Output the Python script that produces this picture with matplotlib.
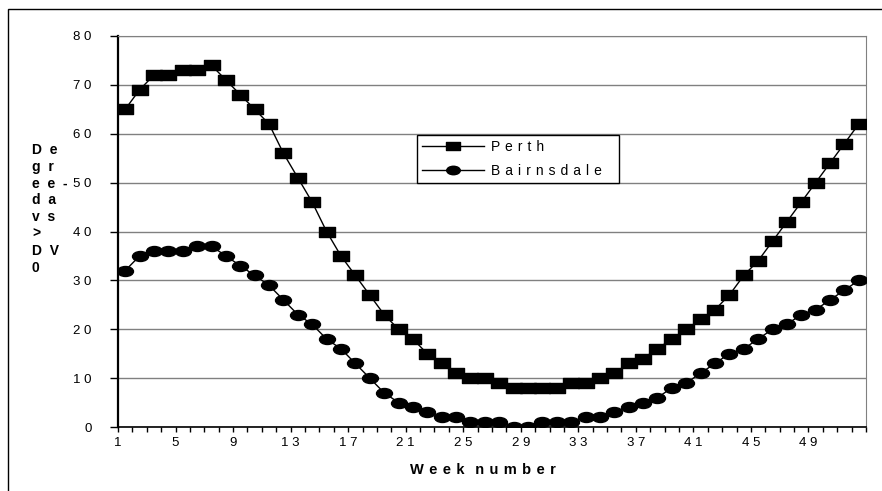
import numpy as np
import matplotlib
matplotlib.use("Agg")
import matplotlib.pyplot as plt
from matplotlib.path import Path
from matplotlib.patches import Rectangle
from matplotlib.transforms import Affine2D

plt.rcParams['font.family'] = ['Liberation Sans', 'DejaVu Sans']

# weekly degree-days
weeks = np.arange(1, 53)
perth = [65, 69, 72, 72, 73, 73, 74, 71, 68, 65, 62, 56, 51, 46, 40, 35,
         31, 27, 23, 20, 18, 15, 13, 11, 10, 10, 9, 8, 8, 8, 8, 9,
         9, 10, 11, 13, 14, 16, 18, 20, 22, 24, 27, 31, 34, 38, 42, 46,
         50, 54, 58, 62]
bairnsdale = [32, 35, 36, 36, 36, 37, 37, 35, 33, 31, 29, 26, 23, 21, 18, 16,
              13, 10, 7, 5, 4, 3, 2, 2, 1, 1, 1, 0, 0, 1, 1, 1,
              2, 2, 3, 4, 5, 6, 8, 9, 11, 13, 15, 16, 18, 20, 21, 23,
              24, 26, 28, 30]
series_names = ["Perth", "Bairnsdale"]
y_ticks = [0, 10, 20, 30, 40, 50, 60, 70, 80]
xlabel = "Week number"
ylabel_lines = ["De", "gr", "ee-", "da", "vs", ">", "DV", "0"]

SEP = " \u200a"   # wide letter spacing like the original


def spaced(s, sep=SEP):
    words = str(s).split(" ")
    return (sep + sep).join(sep.join(w) for w in words)


# wide flat markers like the original
box = Path([(-0.8, -0.5), (0.8, -0.5), (0.8, 0.5), (-0.8, 0.5), (-0.8, -0.5)],
           [Path.MOVETO, Path.LINETO, Path.LINETO, Path.LINETO, Path.CLOSEPOLY])
oval = Path.unit_circle().transformed(Affine2D().scale(1.6, 1.0))

W, H = 882, 491
fig = plt.figure(figsize=(W / 100, H / 100), dpi=100)
ax = fig.add_axes([118 / W, 1 - 427 / H, (866 - 118) / W, (427 - 36) / H])

# outer chart border (runs off the right/bottom of the image)
fig.add_artist(Rectangle((8 / W, -0.05), 1.2, 1 - 9 / H + 0.05, transform=fig.transFigure,
                         fill=False, edgecolor='black', linewidth=1.0, clip_on=False))

ax.plot(weeks, perth, color='black', linewidth=1.0, marker=box, markersize=11.5,
        markerfacecolor='black', markeredgecolor='black',
        label=spaced(series_names[0]), zorder=3)
ax.plot(weeks, bairnsdale, color='black', linewidth=1.0, marker=oval, markersize=11.5,
        markerfacecolor='black', markeredgecolor='black',
        label=spaced(series_names[1]) + "   ", zorder=3)

ax.set_xlim(0.5, 52.5)
ax.set_ylim(0, 80)

# y axis
ax.set_yticks(y_ticks)
ax.set_yticklabels([spaced(v, " ") for v in y_ticks], fontsize=9.5)
ax.yaxis.grid(True, color='#808080', linewidth=1.0)
ax.tick_params(axis='y', length=6, width=1, direction='out', pad=13)

# x axis: ticks on category boundaries, label every 4th week
bounds = np.arange(0.5, 53.0, 1.0)
xlabels = [spaced(int(b + 0.5), " ") if (int(b - 0.5) % 4 == 0 and b < 52) else "" for b in bounds]
ax.set_xticks(bounds)
ax.set_xticklabels(xlabels, fontsize=9.5)
ax.tick_params(axis='x', length=3.5, width=1, direction='out', pad=4)

ax.spines['left'].set_linewidth(1.6)
ax.spines['bottom'].set_linewidth(1.2)
ax.spines['right'].set_color('#808080')
ax.spines['top'].set_color('#808080')
ax.set_axisbelow(True)

fig.text(483 / W, 1 - 470 / H, spaced(xlabel), fontsize=10.5, fontweight='bold',
         ha='center', va='center')

for i, line in enumerate(ylabel_lines):
    fig.text(32 / W, 1 - (150 + i * 16.8) / H, spaced(line, "  "), fontsize=10,
             fontweight='bold', ha='left', va='center')

leg = ax.legend(loc='upper left', bbox_to_anchor=(417 / W, 1 - 135 / H),
                bbox_transform=fig.transFigure, fontsize=10, handlelength=4.5,
                handletextpad=0.5, labelspacing=0.75, borderpad=0.35,
                markerscale=0.85, fancybox=False, framealpha=1, borderaxespad=0)
leg.get_frame().set_edgecolor('black')
leg.get_frame().set_linewidth(1.0)

fig.savefig("out.png", dpi=100)
